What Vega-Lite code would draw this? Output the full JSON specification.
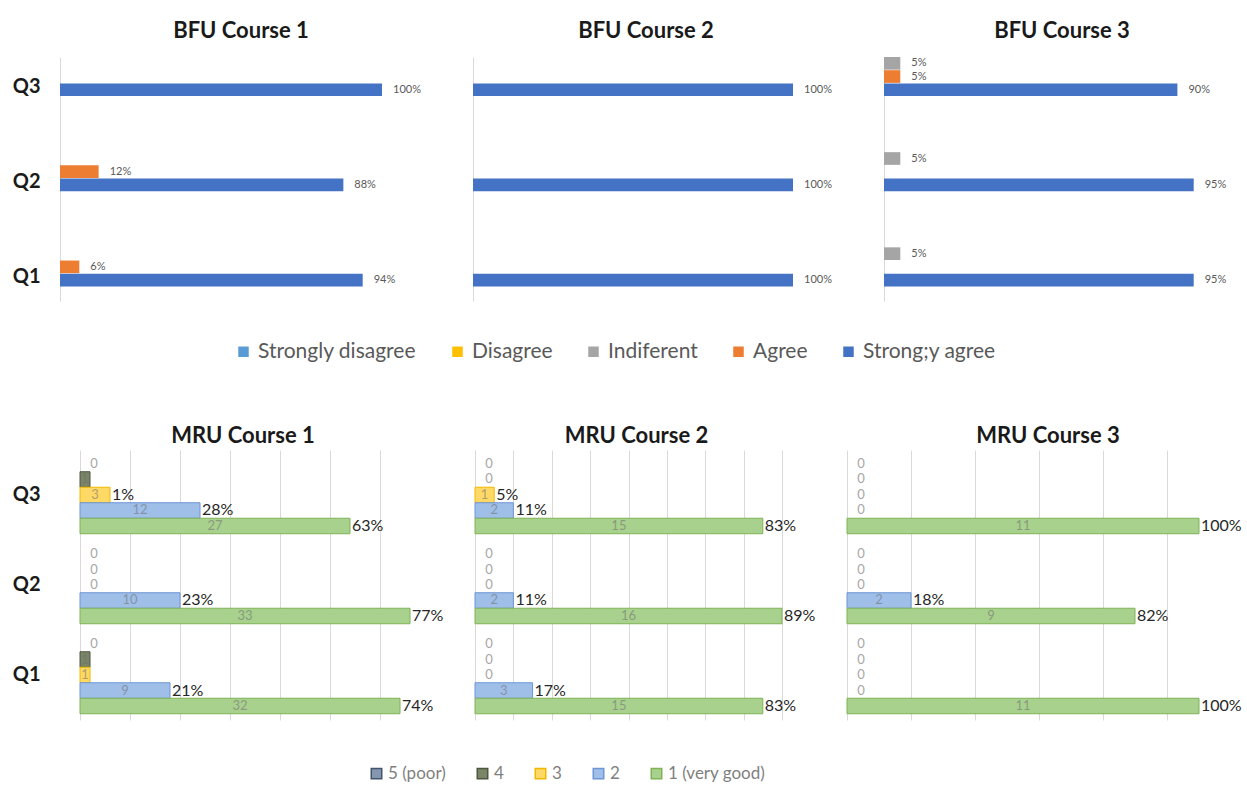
{
  "$schema": "https://vega.github.io/schema/vega-lite/v6.json",
  "padding": {"left": 12, "top": 20, "right": 5, "bottom": 5},
  "background": "white",
  "config": {
    "font": "Lato",
    "view": {"stroke": null},
    "title": {"fontSize": 22, "fontWeight": "bold", "color": "#1a1a1a", "baseline": "alphabetic"}
  },
  "datasets": {
    "bfu": [
      {"course": "BFU Course 1", "q": "Q3", "resp": "Strong;y agree", "pct": 100, "label": "100%"},
      {"course": "BFU Course 1", "q": "Q2", "resp": "Agree", "pct": 12, "label": "12%"},
      {"course": "BFU Course 1", "q": "Q2", "resp": "Strong;y agree", "pct": 88, "label": "88%"},
      {"course": "BFU Course 1", "q": "Q1", "resp": "Agree", "pct": 6, "label": "6%"},
      {"course": "BFU Course 1", "q": "Q1", "resp": "Strong;y agree", "pct": 94, "label": "94%"},
      {"course": "BFU Course 2", "q": "Q3", "resp": "Strong;y agree", "pct": 100, "label": "100%"},
      {"course": "BFU Course 2", "q": "Q2", "resp": "Strong;y agree", "pct": 100, "label": "100%"},
      {"course": "BFU Course 2", "q": "Q1", "resp": "Strong;y agree", "pct": 100, "label": "100%"},
      {"course": "BFU Course 3", "q": "Q3", "resp": "Indiferent", "pct": 5, "label": "5%"},
      {"course": "BFU Course 3", "q": "Q3", "resp": "Agree", "pct": 5, "label": "5%"},
      {"course": "BFU Course 3", "q": "Q3", "resp": "Strong;y agree", "pct": 90, "label": "90%"},
      {"course": "BFU Course 3", "q": "Q2", "resp": "Indiferent", "pct": 5, "label": "5%"},
      {"course": "BFU Course 3", "q": "Q2", "resp": "Strong;y agree", "pct": 95, "label": "95%"},
      {"course": "BFU Course 3", "q": "Q1", "resp": "Indiferent", "pct": 5, "label": "5%"},
      {"course": "BFU Course 3", "q": "Q1", "resp": "Strong;y agree", "pct": 95, "label": "95%"}
    ],
    "mru": [
      {"course": "MRU Course 1", "q": "Q3", "rating": "5 (poor)", "n": 0, "pct": ""},
      {"course": "MRU Course 1", "q": "Q3", "rating": "4", "n": 1, "pct": ""},
      {"course": "MRU Course 1", "q": "Q3", "rating": "3", "n": 3, "pct": "1%"},
      {"course": "MRU Course 1", "q": "Q3", "rating": "2", "n": 12, "pct": "28%"},
      {"course": "MRU Course 1", "q": "Q3", "rating": "1 (very good)", "n": 27, "pct": "63%"},
      {"course": "MRU Course 1", "q": "Q2", "rating": "5 (poor)", "n": 0, "pct": ""},
      {"course": "MRU Course 1", "q": "Q2", "rating": "4", "n": 0, "pct": ""},
      {"course": "MRU Course 1", "q": "Q2", "rating": "3", "n": 0, "pct": ""},
      {"course": "MRU Course 1", "q": "Q2", "rating": "2", "n": 10, "pct": "23%"},
      {"course": "MRU Course 1", "q": "Q2", "rating": "1 (very good)", "n": 33, "pct": "77%"},
      {"course": "MRU Course 1", "q": "Q1", "rating": "5 (poor)", "n": 0, "pct": ""},
      {"course": "MRU Course 1", "q": "Q1", "rating": "4", "n": 1, "pct": ""},
      {"course": "MRU Course 1", "q": "Q1", "rating": "3", "n": 1, "pct": ""},
      {"course": "MRU Course 1", "q": "Q1", "rating": "2", "n": 9, "pct": "21%"},
      {"course": "MRU Course 1", "q": "Q1", "rating": "1 (very good)", "n": 32, "pct": "74%"},
      {"course": "MRU Course 2", "q": "Q3", "rating": "5 (poor)", "n": 0, "pct": ""},
      {"course": "MRU Course 2", "q": "Q3", "rating": "4", "n": 0, "pct": ""},
      {"course": "MRU Course 2", "q": "Q3", "rating": "3", "n": 1, "pct": "5%"},
      {"course": "MRU Course 2", "q": "Q3", "rating": "2", "n": 2, "pct": "11%"},
      {"course": "MRU Course 2", "q": "Q3", "rating": "1 (very good)", "n": 15, "pct": "83%"},
      {"course": "MRU Course 2", "q": "Q2", "rating": "5 (poor)", "n": 0, "pct": ""},
      {"course": "MRU Course 2", "q": "Q2", "rating": "4", "n": 0, "pct": ""},
      {"course": "MRU Course 2", "q": "Q2", "rating": "3", "n": 0, "pct": ""},
      {"course": "MRU Course 2", "q": "Q2", "rating": "2", "n": 2, "pct": "11%"},
      {"course": "MRU Course 2", "q": "Q2", "rating": "1 (very good)", "n": 16, "pct": "89%"},
      {"course": "MRU Course 2", "q": "Q1", "rating": "5 (poor)", "n": 0, "pct": ""},
      {"course": "MRU Course 2", "q": "Q1", "rating": "4", "n": 0, "pct": ""},
      {"course": "MRU Course 2", "q": "Q1", "rating": "3", "n": 0, "pct": ""},
      {"course": "MRU Course 2", "q": "Q1", "rating": "2", "n": 3, "pct": "17%"},
      {"course": "MRU Course 2", "q": "Q1", "rating": "1 (very good)", "n": 15, "pct": "83%"},
      {"course": "MRU Course 3", "q": "Q3", "rating": "5 (poor)", "n": 0, "pct": ""},
      {"course": "MRU Course 3", "q": "Q3", "rating": "4", "n": 0, "pct": ""},
      {"course": "MRU Course 3", "q": "Q3", "rating": "3", "n": 0, "pct": ""},
      {"course": "MRU Course 3", "q": "Q3", "rating": "2", "n": 0, "pct": ""},
      {"course": "MRU Course 3", "q": "Q3", "rating": "1 (very good)", "n": 11, "pct": "100%"},
      {"course": "MRU Course 3", "q": "Q2", "rating": "5 (poor)", "n": 0, "pct": ""},
      {"course": "MRU Course 3", "q": "Q2", "rating": "4", "n": 0, "pct": ""},
      {"course": "MRU Course 3", "q": "Q2", "rating": "3", "n": 0, "pct": ""},
      {"course": "MRU Course 3", "q": "Q2", "rating": "2", "n": 2, "pct": "18%"},
      {"course": "MRU Course 3", "q": "Q2", "rating": "1 (very good)", "n": 9, "pct": "82%"},
      {"course": "MRU Course 3", "q": "Q1", "rating": "5 (poor)", "n": 0, "pct": ""},
      {"course": "MRU Course 3", "q": "Q1", "rating": "4", "n": 0, "pct": ""},
      {"course": "MRU Course 3", "q": "Q1", "rating": "3", "n": 0, "pct": ""},
      {"course": "MRU Course 3", "q": "Q1", "rating": "2", "n": 0, "pct": ""},
      {"course": "MRU Course 3", "q": "Q1", "rating": "1 (very good)", "n": 11, "pct": "100%"}
    ]
  },
  "spacing": 63,
  "resolve": {"scale": {"color": "independent", "fill": "independent", "stroke": "independent", "yOffset": "independent"}},
  "vconcat": [
    {
      "hconcat": [
        {
          "width": 322, "height": 244,
          "title": {"text": "BFU Course 1", "dx": 20, "offset": 14},
          "data": {"name": "bfu"},
          "transform": [{"filter": "datum.course == 'BFU Course 1'"}],
          "encoding": {
            "y": {"field": "q", "type": "nominal", "scale": {"domain": ["Q3", "Q2", "Q1"], "paddingInner": 0.5895, "paddingOuter": 0.0767, "align": 0},
                  "axis": {"title": null, "ticks": false, "domain": true, "domainColor": "#d9d9d9", "labelFontSize": 20, "labelFontWeight": "bold", "labelColor": "#1a1a1a", "labelPadding": 20, "labelOffset": 10}},
            "yOffset": {"field": "resp", "type": "nominal", "scale": {"domain": ["Indiferent", "Agree", "Strong;y agree"], "paddingInner": 0.04}},
            "x": {"field": "pct", "type": "quantitative", "scale": {"domain": [0, 100], "nice": false}, "axis": null}
          },
          "layer": [
            {"mark": {"type": "bar"},
             "encoding": {"color": {"field": "resp", "type": "nominal",
               "scale": {"domain": ["Strongly disagree", "Disagree", "Indiferent", "Agree", "Strong;y agree"], "range": ["#5b9bd5", "#ffc000", "#a5a5a5", "#ed7d31", "#4472c4"]},
               "legend": {"orient": "none", "legendX": 173, "legendY": 284, "direction": "horizontal", "columns": 5, "title": null, "symbolType": "square", "symbolSize": 110, "symbolStrokeWidth": 0, "labelFontSize": 21, "labelLimit": 400, "labelColor": "#595959", "columnPadding": 30, "labelOffset": 4}}}},
            {"mark": {"type": "text", "align": "left", "dx": 11, "fontSize": 11, "color": "#595959"},
             "encoding": {"text": {"field": "label"}}}
          ]
        },
        {
          "width": 320, "height": 244,
          "title": {"text": "BFU Course 2", "dx": 13, "offset": 14},
          "data": {"name": "bfu"},
          "transform": [{"filter": "datum.course == 'BFU Course 2'"}],
          "encoding": {
            "y": {"field": "q", "type": "nominal", "scale": {"domain": ["Q3", "Q2", "Q1"], "paddingInner": 0.5895, "paddingOuter": 0.0767, "align": 0},
                  "axis": {"title": null, "ticks": false, "labels": false, "domain": true, "domainColor": "#d9d9d9"}},
            "yOffset": {"field": "resp", "type": "nominal", "scale": {"domain": ["Indiferent", "Agree", "Strong;y agree"], "paddingInner": 0.04}},
            "x": {"field": "pct", "type": "quantitative", "scale": {"domain": [0, 100], "nice": false}, "axis": null}
          },
          "layer": [
            {"mark": {"type": "bar"},
             "encoding": {"color": {"field": "resp", "type": "nominal",
               "scale": {"domain": ["Strongly disagree", "Disagree", "Indiferent", "Agree", "Strong;y agree"], "range": ["#5b9bd5", "#ffc000", "#a5a5a5", "#ed7d31", "#4472c4"]},
               "legend": {"orient": "none", "legendX": 173, "legendY": 284, "direction": "horizontal", "columns": 5, "title": null, "symbolType": "square", "symbolSize": 110, "symbolStrokeWidth": 0, "labelFontSize": 21, "labelLimit": 400, "labelColor": "#595959", "columnPadding": 30, "labelOffset": 4}}}},
            {"mark": {"type": "text", "align": "left", "dx": 11, "fontSize": 11, "color": "#595959"},
             "encoding": {"text": {"field": "label"}}}
          ]
        },
        {
          "width": 326, "height": 244,
          "title": {"text": "BFU Course 3", "dx": 15, "offset": 14},
          "data": {"name": "bfu"},
          "transform": [{"filter": "datum.course == 'BFU Course 3'"}],
          "encoding": {
            "y": {"field": "q", "type": "nominal", "scale": {"domain": ["Q3", "Q2", "Q1"], "paddingInner": 0.5895, "paddingOuter": 0.0767, "align": 0},
                  "axis": {"title": null, "ticks": false, "labels": false, "domain": true, "domainColor": "#d9d9d9"}},
            "yOffset": {"field": "resp", "type": "nominal", "scale": {"domain": ["Indiferent", "Agree", "Strong;y agree"], "paddingInner": 0.04}},
            "x": {"field": "pct", "type": "quantitative", "scale": {"domain": [0, 100], "nice": false}, "axis": null}
          },
          "layer": [
            {"mark": {"type": "bar"},
             "encoding": {"color": {"field": "resp", "type": "nominal",
               "scale": {"domain": ["Strongly disagree", "Disagree", "Indiferent", "Agree", "Strong;y agree"], "range": ["#5b9bd5", "#ffc000", "#a5a5a5", "#ed7d31", "#4472c4"]},
               "legend": {"orient": "none", "legendX": 173, "legendY": 284, "direction": "horizontal", "columns": 5, "title": null, "symbolType": "square", "symbolSize": 110, "symbolStrokeWidth": 0, "labelFontSize": 21, "labelLimit": 400, "labelColor": "#595959", "columnPadding": 30, "labelOffset": 4}}}},
            {"mark": {"type": "text", "align": "left", "dx": 11, "fontSize": 11, "color": "#595959"},
             "encoding": {"text": {"field": "label"}}}
          ]
        }
      ],
      "spacing": 91,
      "bounds": "flush",
      "resolve": {"scale": {"yOffset": "independent"}}
    },
    {
      "hconcat": [
        {
          "width": 350, "height": 270,
          "title": {"text": "MRU Course 1", "dx": 8, "offset": 2},
          "data": {"name": "mru"},
          "transform": [{"filter": "datum.course == 'MRU Course 1'"}],
          "encoding": {
            "y": {"field": "q", "type": "nominal", "scale": {"domain": ["Q3", "Q2", "Q1"], "paddingInner": 0.139, "paddingOuter": 0.0694},
                  "axis": {"title": null, "ticks": false, "domain": false, "labelFontSize": 20, "labelFontWeight": "bold", "labelColor": "#1a1a1a", "labelPadding": 20}},
            "yOffset": {"field": "rating", "type": "nominal", "scale": {"domain": ["5 (poor)", "4", "3", "2", "1 (very good)"], "paddingInner": 0}}
          },
          "resolve": {"scale": {"x": "independent"}},
          "layer": [
            {"transform": [{"filter": "datum.n > 0"}],
             "mark": {"type": "bar", "strokeWidth": 1},
             "encoding": {
               "x": {"field": "n", "type": "quantitative", "scale": {"domain": [0, 33], "nice": false, "range": [20, 350]},
                     "axis": {"values": [0, 5, 10, 15, 20, 25, 30], "grid": true, "gridColor": "#d9d9d9", "labels": false, "ticks": false, "domain": false, "title": null}},
               "fill": {"field": "rating", "type": "nominal",
                 "scale": {"domain": ["5 (poor)", "4", "3", "2", "1 (very good)"], "range": ["#8497b0", "#7a8467", "#ffd966", "#9fbfe9", "#a9d18e"]},
                 "legend": {"orient": "none", "legendX": 308, "legendY": 315, "direction": "horizontal", "columns": 5, "title": null, "symbolType": "square", "symbolSize": 110, "labelFontSize": 17, "labelColor": "#7f7f7f", "columnPadding": 28, "labelOffset": 3}},
               "stroke": {"field": "rating", "type": "nominal",
                 "scale": {"domain": ["5 (poor)", "4", "3", "2", "1 (very good)"], "range": ["#44546a", "#4e5640", "#f2b800", "#6d96d6", "#7fb356"]},
                 "legend": {"orient": "none", "legendX": 308, "legendY": 315, "direction": "horizontal", "columns": 5, "title": null, "symbolType": "square", "symbolSize": 110, "labelFontSize": 17, "labelColor": "#7f7f7f", "columnPadding": 28, "labelOffset": 3}}
             }},
            {"transform": [{"filter": "datum.n > 0"}],
             "mark": {"type": "text", "fontSize": 13, "color": "#6f6f6f", "opacity": 0.55},
             "encoding": {"x": {"field": "n", "type": "quantitative", "scale": {"domain": [0, 66], "nice": false, "range": [20, 350]}, "axis": null}, "text": {"field": "n"}}},
            {"transform": [{"filter": "datum.n == 0"}],
             "mark": {"type": "text", "dx": 14, "fontSize": 13, "color": "#a6a6a6"},
             "encoding": {"x": {"field": "n", "type": "quantitative", "scale": {"domain": [0, 33], "nice": false, "range": [20, 350]}, "axis": null}, "text": {"field": "n"}}},
            {"transform": [{"filter": "datum.pct != ''"}],
             "mark": {"type": "text", "align": "left", "dx": 2, "fontSize": 16, "color": "#262626"},
             "encoding": {"x": {"field": "n", "type": "quantitative", "scale": {"domain": [0, 33], "nice": false, "range": [20, 350]}, "axis": null}, "text": {"field": "pct"}}}
          ]
        },
        {
          "width": 307, "height": 270,
          "title": {"text": "MRU Course 2", "dx": 8, "offset": 2},
          "data": {"name": "mru"},
          "transform": [{"filter": "datum.course == 'MRU Course 2'"}],
          "encoding": {
            "y": {"field": "q", "type": "nominal", "scale": {"domain": ["Q3", "Q2", "Q1"], "paddingInner": 0.139, "paddingOuter": 0.0694}, "axis": null},
            "yOffset": {"field": "rating", "type": "nominal", "scale": {"domain": ["5 (poor)", "4", "3", "2", "1 (very good)"], "paddingInner": 0}}
          },
          "resolve": {"scale": {"x": "independent"}},
          "layer": [
            {"transform": [{"filter": "datum.n > 0"}],
             "mark": {"type": "bar", "strokeWidth": 1},
             "encoding": {
               "x": {"field": "n", "type": "quantitative", "scale": {"domain": [0, 16], "nice": false},
                     "axis": {"values": [0, 2, 4, 6, 8, 10, 12, 14, 16], "grid": true, "gridColor": "#d9d9d9", "labels": false, "ticks": false, "domain": false, "title": null}},
               "fill": {"field": "rating", "type": "nominal",
                 "scale": {"domain": ["5 (poor)", "4", "3", "2", "1 (very good)"], "range": ["#8497b0", "#7a8467", "#ffd966", "#9fbfe9", "#a9d18e"]},
                 "legend": {"orient": "none", "legendX": 308, "legendY": 315, "direction": "horizontal", "columns": 5, "title": null, "symbolType": "square", "symbolSize": 110, "labelFontSize": 17, "labelColor": "#7f7f7f", "columnPadding": 28, "labelOffset": 3}},
               "stroke": {"field": "rating", "type": "nominal",
                 "scale": {"domain": ["5 (poor)", "4", "3", "2", "1 (very good)"], "range": ["#44546a", "#4e5640", "#f2b800", "#6d96d6", "#7fb356"]},
                 "legend": {"orient": "none", "legendX": 308, "legendY": 315, "direction": "horizontal", "columns": 5, "title": null, "symbolType": "square", "symbolSize": 110, "labelFontSize": 17, "labelColor": "#7f7f7f", "columnPadding": 28, "labelOffset": 3}}
             }},
            {"transform": [{"filter": "datum.n > 0"}],
             "mark": {"type": "text", "fontSize": 13, "color": "#6f6f6f", "opacity": 0.55},
             "encoding": {"x": {"field": "n", "type": "quantitative", "scale": {"domain": [0, 32], "nice": false}, "axis": null}, "text": {"field": "n"}}},
            {"transform": [{"filter": "datum.n == 0"}],
             "mark": {"type": "text", "dx": 14, "fontSize": 13, "color": "#a6a6a6"},
             "encoding": {"x": {"field": "n", "type": "quantitative", "scale": {"domain": [0, 16], "nice": false}, "axis": null}, "text": {"field": "n"}}},
            {"transform": [{"filter": "datum.pct != ''"}],
             "mark": {"type": "text", "align": "left", "dx": 2, "fontSize": 16, "color": "#262626"},
             "encoding": {"x": {"field": "n", "type": "quantitative", "scale": {"domain": [0, 16], "nice": false}, "axis": null}, "text": {"field": "pct"}}}
          ]
        },
        {
          "width": 352, "height": 270,
          "title": {"text": "MRU Course 3", "dx": 25, "offset": 2},
          "data": {"name": "mru"},
          "transform": [{"filter": "datum.course == 'MRU Course 3'"}],
          "encoding": {
            "y": {"field": "q", "type": "nominal", "scale": {"domain": ["Q3", "Q2", "Q1"], "paddingInner": 0.139, "paddingOuter": 0.0694}, "axis": null},
            "yOffset": {"field": "rating", "type": "nominal", "scale": {"domain": ["5 (poor)", "4", "3", "2", "1 (very good)"], "paddingInner": 0}}
          },
          "resolve": {"scale": {"x": "independent"}},
          "layer": [
            {"transform": [{"filter": "datum.n > 0"}],
             "mark": {"type": "bar", "strokeWidth": 1},
             "encoding": {
               "x": {"field": "n", "type": "quantitative", "scale": {"domain": [0, 11], "nice": false},
                     "axis": {"values": [0, 2, 4, 6, 8, 10], "grid": true, "gridColor": "#d9d9d9", "labels": false, "ticks": false, "domain": false, "title": null}},
               "fill": {"field": "rating", "type": "nominal",
                 "scale": {"domain": ["5 (poor)", "4", "3", "2", "1 (very good)"], "range": ["#8497b0", "#7a8467", "#ffd966", "#9fbfe9", "#a9d18e"]},
                 "legend": {"orient": "none", "legendX": 308, "legendY": 315, "direction": "horizontal", "columns": 5, "title": null, "symbolType": "square", "symbolSize": 110, "labelFontSize": 17, "labelColor": "#7f7f7f", "columnPadding": 28, "labelOffset": 3}},
               "stroke": {"field": "rating", "type": "nominal",
                 "scale": {"domain": ["5 (poor)", "4", "3", "2", "1 (very good)"], "range": ["#44546a", "#4e5640", "#f2b800", "#6d96d6", "#7fb356"]},
                 "legend": {"orient": "none", "legendX": 308, "legendY": 315, "direction": "horizontal", "columns": 5, "title": null, "symbolType": "square", "symbolSize": 110, "labelFontSize": 17, "labelColor": "#7f7f7f", "columnPadding": 28, "labelOffset": 3}}
             }},
            {"transform": [{"filter": "datum.n > 0"}],
             "mark": {"type": "text", "fontSize": 13, "color": "#6f6f6f", "opacity": 0.55},
             "encoding": {"x": {"field": "n", "type": "quantitative", "scale": {"domain": [0, 22], "nice": false}, "axis": null}, "text": {"field": "n"}}},
            {"transform": [{"filter": "datum.n == 0"}],
             "mark": {"type": "text", "dx": 14, "fontSize": 13, "color": "#a6a6a6"},
             "encoding": {"x": {"field": "n", "type": "quantitative", "scale": {"domain": [0, 11], "nice": false}, "axis": null}, "text": {"field": "n"}}},
            {"transform": [{"filter": "datum.pct != ''"}],
             "mark": {"type": "text", "align": "left", "dx": 2, "fontSize": 16, "color": "#262626"},
             "encoding": {"x": {"field": "n", "type": "quantitative", "scale": {"domain": [0, 11], "nice": false}, "axis": null}, "text": {"field": "pct"}}}
          ]
        }
      ],
      "spacing": 65,
      "bounds": "flush",
      "resolve": {"scale": {"yOffset": "independent"}}
    }
  ]
}
